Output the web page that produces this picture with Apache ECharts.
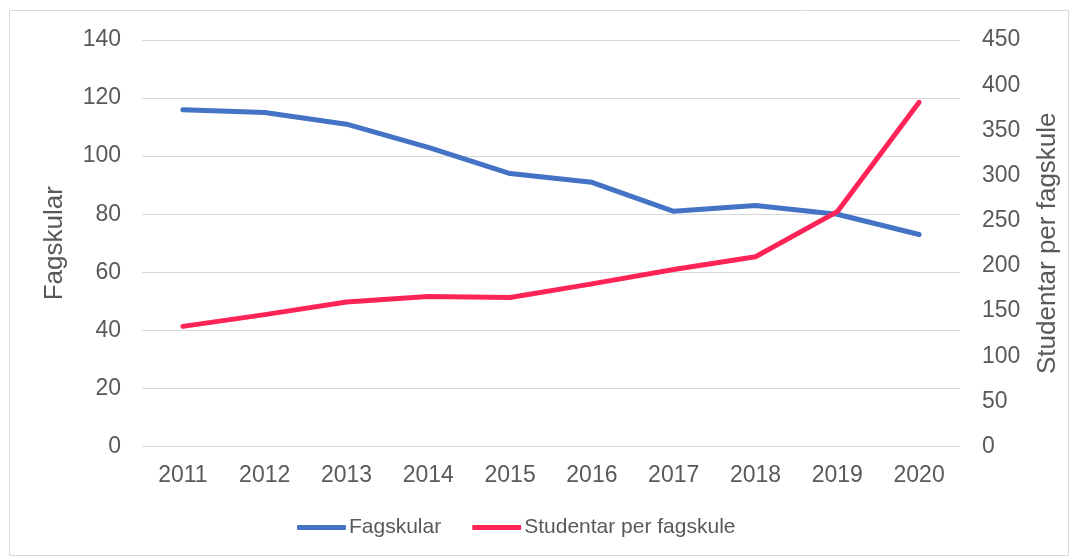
<!DOCTYPE html>
<html>
<head>
<meta charset="utf-8">
<script src="https://cdn.jsdelivr.net/npm/echarts@6/dist/echarts.min.js"></script>
<style>
  html, body { margin: 0; padding: 0; background: #fff; }
  #chart { width: 1078px; height: 559px; }
</style>
</head>
<body>
<div id="chart"></div>
<script>
var years = ['2011', '2012', '2013', '2014', '2015', '2016', '2017', '2018', '2019', '2020'];
var fagskular = [116, 115, 111, 103, 94, 91, 81, 83, 80, 73];
var studentarPerFagskule = [133, 146, 160, 166, 165, 180, 196, 210, 260, 381];

var textColor = '#595959';
var font = 'Liberation Sans, Arial, sans-serif';

var chart = echarts.init(document.getElementById('chart'));
chart.setOption({
    animation: false,
    textStyle: { fontFamily: font },
    graphic: [{
        type: 'rect',
        shape: { x: 9.5, y: 10.5, width: 1059, height: 545 },
        style: { fill: 'none', stroke: '#d9d9d9', lineWidth: 1 },
        silent: true
    }],
    grid: { left: 142, right: 118, top: 40, bottom: 112.5 },
    legend: {
        bottom: 16,
        left: 292,
        itemWidth: 49,
        itemHeight: 5,
        itemGap: 31,
        icon: 'roundRect',
        textStyle: { color: textColor, fontSize: 21, fontFamily: font, padding: [0, 0, 0, -2] },
        data: ['Fagskular', 'Studentar per fagskule']
    },
    xAxis: {
        type: 'category',
        data: years,
        boundaryGap: true,
        axisLine: { show: false },
        axisTick: { show: false },
        axisLabel: { color: textColor, fontSize: 23, margin: 18, fontFamily: font }
    },
    yAxis: [{
        type: 'value',
        min: 0,
        max: 140,
        interval: 20,
        name: 'Fagskular',
        nameLocation: 'middle',
        nameGap: 74,
        nameRotate: 90,
        nameTextStyle: { color: textColor, fontSize: 26, fontFamily: font },
        axisLine: { show: false },
        axisTick: { show: false },
        axisLabel: { color: textColor, fontSize: 23, margin: 21, fontFamily: font },
        splitLine: { lineStyle: { color: '#d9d9d9', width: 1 } }
    }, {
        type: 'value',
        min: 0,
        max: 450,
        interval: 50,
        name: 'Studentar per fagskule',
        nameLocation: 'middle',
        nameGap: 75,
        nameRotate: 90,
        nameTextStyle: { color: textColor, fontSize: 26, fontFamily: font },
        axisLine: { show: false },
        axisTick: { show: false },
        axisLabel: { color: textColor, fontSize: 23, margin: 22, fontFamily: font },
        splitLine: { show: false }
    }],
    series: [{
        name: 'Fagskular',
        type: 'line',
        yAxisIndex: 0,
        data: fagskular,
        symbol: 'none',
        color: '#4472C4',
        lineStyle: { color: '#4472C4', width: 5, cap: 'round', join: 'round' }
    }, {
        name: 'Studentar per fagskule',
        type: 'line',
        yAxisIndex: 1,
        data: studentarPerFagskule,
        symbol: 'none',
        color: '#FF2458',
        lineStyle: { color: '#FF2458', width: 5, cap: 'round', join: 'round' }
    }]
});
</script>
</body>
</html>
